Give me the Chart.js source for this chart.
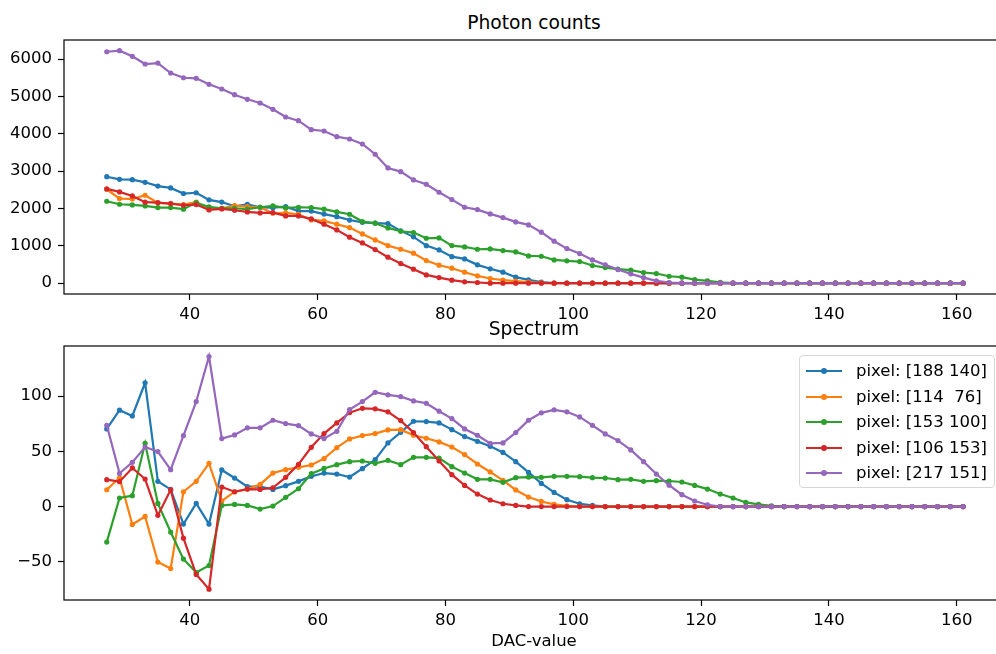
<!DOCTYPE html>
<html>
<head>
<meta charset="utf-8">
<script src="https://cdn.jsdelivr.net/npm/chart.js@4.4.0/dist/chart.umd.min.js"></script>
<style>
    html, body {
        margin: 0;
        padding: 0;
        width: 996px;
        height: 654px;
        overflow: hidden;
        background: #fff;
        font-family: "DejaVu Sans", sans-serif;
        color: #000;
    }

    canvas {
        position: absolute;
        left: 0;
    }

    #countsCanvas { top: 0; }

    #spectrumCanvas { top: 330px; }

    .plotText {
        position: absolute;
        left: 0;
        width: 1068px;
        text-align: center;
        line-height: 1;
        white-space: pre;
    }

    .plotTitle { font-size: 18.7px; }

    #xLabel { font-size: 16.5px; top: 633px; }

    #legendBox {
        position: absolute;
        left: 799px;
        top: 355px;
        width: 196px;
        height: 133px;
        box-sizing: border-box;
        border: 1px solid #d6d6d6;
        border-radius: 4px;
        background: rgba(255, 255, 255, 0.8);
    }

    .legendRow {
        position: absolute;
        left: 0;
        height: 26px;
        width: 100%;
    }

    .legendLine {
        position: absolute;
        left: 6px;
        top: 12px;
        width: 36px;
        height: 2px;
    }

    .legendDot {
        position: absolute;
        left: 21px;
        top: 10px;
        width: 6px;
        height: 6px;
        border-radius: 50%;
    }

    .legendText {
        position: absolute;
        left: 56px;
        top: 0;
        font-size: 16.5px;
        line-height: 26px;
        white-space: pre;
    }
</style>
</head>
<body>

<div class="plotText plotTitle" style="top: 14.2px;">Photon counts</div>
<canvas id="countsCanvas" width="1010" height="330"></canvas>

<canvas id="spectrumCanvas" width="1010" height="324"></canvas>
<div class="plotText plotTitle" style="top: 320.2px;">Spectrum</div>
<div class="plotText" id="xLabel">DAC-value</div>

<div id="legendBox"></div>

<script>
// ======================================
// Data
// ======================================

const dacValues = [
    27, 29, 31, 33, 35, 37, 39, 41, 43, 45,
    47, 49, 51, 53, 55, 57, 59, 61, 63, 65,
    67, 69, 71, 73, 75, 77, 79, 81, 83, 85,
    87, 89, 91, 93, 95, 97, 99, 101, 103, 105,
    107, 109, 111, 113, 115, 117, 119, 121, 123, 125,
    127, 129, 131, 133, 135, 137, 139, 141, 143, 145,
    147, 149, 151, 153, 155, 157, 159, 161
];

const seriesLabels = [
    "pixel: [188 140]",
    "pixel: [114  76]",
    "pixel: [153 100]",
    "pixel: [106 153]",
    "pixel: [217 151]"
];

const seriesColors = ["#1f77b4", "#ff7f0e", "#2ca02c", "#d62728", "#9467bd"];

// Photon counts

const countsBlue = [
    2850, 2780, 2770, 2700, 2600, 2550, 2400, 2420, 2230, 2170,
    2060, 2110, 2030, 2020, 2050, 1930, 1930, 1850, 1780, 1690,
    1630, 1610, 1595, 1400, 1240, 1005, 890, 710, 650, 490,
    385, 295, 160, 88, 27, 5, 0, 0, 0, 0,
    0, 0, 0, 0, 0, 0, 0, 0, 0, 0,
    0, 0, 0, 0, 0, 0, 0, 0, 0, 0,
    0, 0, 0, 0, 0, 0, 0, 0
];

const countsOrange = [
    2514, 2264, 2255, 2354, 2148, 2131, 2104, 2167, 1980, 2006,
    2077, 2050, 2033, 1872, 1881, 1845, 1693, 1667, 1578, 1488,
    1319, 1158, 1006, 908, 802, 605, 481, 401, 294, 196,
    124, 80, 53, 27, 9, 0, 0, 0, 0, 0,
    0, 0, 0, 0, 0, 0, 0, 0, 0, 0,
    0, 0, 0, 0, 0, 0, 0, 0, 0, 0,
    0, 0, 0, 0, 0, 0, 0, 0
];

const countsGreen = [
    2193, 2113, 2095, 2068, 2024, 2024, 1980, 2157, 2041, 2006,
    2006, 1980, 2033, 2068, 2015, 2033, 2024, 1980, 1907, 1845,
    1649, 1605, 1479, 1390, 1355, 1203, 1212, 1006, 970, 908,
    917, 873, 837, 730, 721, 623, 597, 579, 472, 418,
    374, 347, 285, 258, 185, 160, 97, 62, 20, 0,
    0, 0, 0, 0, 0, 0, 0, 0, 0, 0,
    0, 0, 0, 0, 0, 0, 0, 0
];

const countsRed = [
    2523, 2443, 2336, 2167, 2158, 2131, 2086, 2104, 1961, 1988,
    1952, 1907, 1881, 1890, 1801, 1801, 1721, 1578, 1426, 1230,
    1078, 899, 695, 525, 374, 222, 150, 80, 35, 18,
    0, 0, 0, 0, 0, 0, 0, 0, 0, 0,
    0, 0, 0, 0, 0, 0, 0, 0, 0, 0,
    0, 0, 0, 0, 0, 0, 0, 0, 0, 0,
    0, 0, 0, 0, 0, 0, 0, 0
];

const countsPurple = [
    6196, 6223, 6073, 5867, 5893, 5626, 5500, 5484, 5324, 5198,
    5046, 4922, 4823, 4655, 4449, 4350, 4109, 4074, 3922, 3860,
    3726, 3451, 3084, 2986, 2763, 2648, 2434, 2237, 2033, 1969,
    1854, 1755, 1640, 1560, 1364, 1123, 926, 792, 623, 490,
    364, 249, 150, 62, 18, 0, 0, 0, 0, 0,
    0, 0, 0, 0, 0, 0, 0, 0, 0, 0,
    0, 0, 0, 0, 0, 0, 0, 0
];

// Spectrum

const spectrumBlue = [
    70.2, 87.2, 82.0, 112.0, 22.8, 15.5, -15.9, 2.8, -15.9, 33.1,
    25.8, 18.0, 18.0, 15.5, 18.9, 22.8, 27.3, 30.3, 29.4, 26.7,
    34.3, 42.4, 57.6, 67.2, 77.2, 76.9, 75.7, 69.6, 63.3, 59.0,
    54.5, 49.0, 40.6, 30.9, 20.9, 12.8, 6.2, 2.5, 1.0, 0,
    0, 0, 0, 0, 0, 0, 0, 0, 0, 0,
    0, 0, 0, 0, 0, 0, 0, 0, 0, 0,
    0, 0, 0, 0, 0, 0, 0, 0
];

const spectrumOrange = [
    15.2, 26.0, -16.2, -9.0, -50.3, -56.1, 13.4, 22.8, 39.1, 5.0,
    13.4, 15.8, 20.0, 30.3, 33.4, 35.5, 37.6, 43.3, 53.3, 61.2,
    64.2, 66.0, 69.3, 69.6, 64.5, 61.8, 58.5, 53.9, 47.0, 38.5,
    31.3, 23.7, 15.0, 8.6, 4.6, 1.9, 0.7, 0, 0, 0,
    0, 0, 0, 0, 0, 0, 0, 0, 0, 0,
    0, 0, 0, 0, 0, 0, 0, 0, 0, 0,
    0, 0, 0, 0, 0, 0, 0, 0
];

const spectrumGreen = [
    -32.2, 7.7, 9.8, 57.2, 2.8, -23.1, -47.6, -59.7, -53.4, 1.0,
    1.9, 1.0, -2.3, 0.4, 8.3, 16.1, 29.7, 34.5, 37.9, 40.6,
    41.2, 39.1, 41.8, 37.9, 44.5, 44.5, 43.9, 36.1, 30.3, 24.6,
    24.6, 21.9, 26.1, 26.7, 26.4, 27.3, 27.3, 27.0, 26.1, 25.8,
    24.3, 24.6, 22.8, 23.4, 23.1, 22.2, 19.1, 15.8, 11.3, 7.7,
    3.7, 1.9, 0.7, 0, 0, 0, 0, 0, 0, 0,
    0, 0, 0, 0, 0, 0, 0, 0
];

const spectrumRed = [
    24.3, 22.5, 34.9, 24.9, -8.0, 15.2, -28.6, -61.5, -74.8, 17.7,
    13.4, 15.8, 15.5, 17.0, 26.4, 38.2, 53.6, 66.0, 75.7, 85.0,
    88.9, 88.4, 85.7, 77.8, 66.9, 54.2, 41.2, 28.8, 19.1, 11.3,
    5.9, 2.5, 1.0, 0, 0, 0, 0, 0, 0, 0,
    0, 0, 0, 0, 0, 0, 0, 0, 0, 0,
    0, 0, 0, 0, 0, 0, 0, 0, 0, 0,
    0, 0, 0, 0, 0, 0, 0, 0
];

const spectrumPurple = [
    73.5, 30.0, 40.0, 53.9, 49.7, 33.4, 64.2, 95.0, 135.8, 61.5,
    64.8, 71.2, 71.2, 78.1, 75.1, 73.3, 65.7, 61.5, 68.1, 87.8,
    95.0, 103.4, 101.1, 99.5, 95.6, 93.5, 86.3, 79.6, 70.2, 64.5,
    57.2, 57.6, 66.9, 78.1, 84.8, 87.5, 85.7, 81.1, 73.5, 65.7,
    59.7, 51.2, 40.6, 29.4, 19.3, 10.7, 5.0, 1.6, 0, 0,
    0, 0, 0, 0, 0, 0, 0, 0, 0, 0,
    0, 0, 0, 0, 0, 0, 0, 0
];

// Tick labels

const xTicks = [40, 60, 80, 100, 120, 140, 160];

const countsTicks = [0, 1000, 2000, 3000, 4000, 5000, 6000];

const spectrumTicks = [-50, 0, 50, 100];

// Axis ranges

const X_MIN = 20.31;
const X_MAX = 167.4;

const COUNTS_MIN = -290;
const COUNTS_MAX = 6510;

const SPECTRUM_MIN = -84.6;
const SPECTRUM_MAX = 145.3;

// ======================================
// Chart defaults
// ======================================

Chart.defaults.font.family = '"DejaVu Sans", sans-serif';
Chart.defaults.font.size = 16.5;
Chart.defaults.color = "#000";

// full box round the axes, like matplotlib spines
const framePlugin = {

    id: "frame",

    afterDatasetsDraw(chart) {

        const ctx = chart.ctx;
        const area = chart.chartArea;

        ctx.save();
        ctx.strokeStyle = "#000";
        ctx.lineWidth = 1.2;
        ctx.strokeRect(area.left, area.top, area.right - area.left, area.bottom - area.top);
        ctx.restore();

    }

};

function formatTick(value) {

    if (value < 0) {
        return "\u2212" + Math.abs(value);
    }

    return String(value);

}

function fixedTicks(values) {

    return (scale) => {
        scale.ticks = values.map((v) => ({ value: v }));
    };

}

function buildDatasets(seriesList) {

    return seriesList.map((values, i) => ({

        label: seriesLabels[i],

        data: dacValues.map((x, j) => ({ x: x, y: values[j] })),

        borderColor: seriesColors[i],

        backgroundColor: seriesColors[i],

        borderWidth: 2.2,

        pointRadius: 2.6,

        pointBorderWidth: 0,

        pointHoverRadius: 2.6,

        tension: 0,

        // later series drawn on top, like matplotlib
        order: seriesList.length - i

    }));

}

function axisGrid() {

    return {
        drawOnChartArea: false,
        drawTicks: true,
        tickLength: 6,
        tickColor: "#000",
        tickWidth: 1.2
    };

}

function buildOptions(yMin, yMax, yTicks, topPad, xHeight) {

    return {

        responsive: false,

        animation: false,

        devicePixelRatio: 1,

        layout: {
            padding: { top: topPad, left: 0, right: 6, bottom: 0 }
        },

        plugins: {
            legend: { display: false },
            tooltip: { enabled: false }
        },

        scales: {

            x: {
                type: "linear",
                min: X_MIN,
                max: X_MAX,
                afterBuildTicks: fixedTicks(xTicks),
                afterFit: (scale) => { scale.height = xHeight; },
                ticks: {
                    autoSkip: false,
                    maxRotation: 0,
                    padding: 5,
                    callback: formatTick
                },
                grid: axisGrid(),
                border: { display: false }
            },

            y: {
                type: "linear",
                min: yMin,
                max: yMax,
                afterBuildTicks: fixedTicks(yTicks),
                afterFit: (scale) => { scale.width = 64; },
                ticks: {
                    autoSkip: false,
                    padding: 6,
                    callback: formatTick
                },
                grid: axisGrid(),
                border: { display: false }
            }

        }

    };

}

// ======================================
// Charts
// ======================================

const countsChart = new Chart(document.getElementById("countsCanvas"), {

    type: "line",

    data: {
        datasets: buildDatasets([countsBlue, countsOrange, countsGreen, countsRed, countsPurple])
    },

    options: buildOptions(COUNTS_MIN, COUNTS_MAX, countsTicks, 40, 36),

    plugins: [framePlugin]

});

const spectrumChart = new Chart(document.getElementById("spectrumCanvas"), {

    type: "line",

    data: {
        datasets: buildDatasets([spectrumBlue, spectrumOrange, spectrumGreen, spectrumRed, spectrumPurple])
    },

    options: buildOptions(SPECTRUM_MIN, SPECTRUM_MAX, spectrumTicks, 16, 54),

    plugins: [framePlugin]

});

// ======================================
// Legend
// ======================================

function buildLegend() {

    const box = document.getElementById("legendBox");

    seriesLabels.forEach((label, i) => {

        const row = document.createElement("div");
        row.className = "legendRow";
        row.style.top = Math.round(2 + i * 25.6) + "px";

        const line = document.createElement("div");
        line.className = "legendLine";
        line.style.background = seriesColors[i];

        const dot = document.createElement("div");
        dot.className = "legendDot";
        dot.style.background = seriesColors[i];

        const text = document.createElement("div");
        text.className = "legendText";
        text.textContent = label;

        row.appendChild(line);
        row.appendChild(dot);
        row.appendChild(text);
        box.appendChild(row);

    });

}

buildLegend();
</script>
</body>
</html>
